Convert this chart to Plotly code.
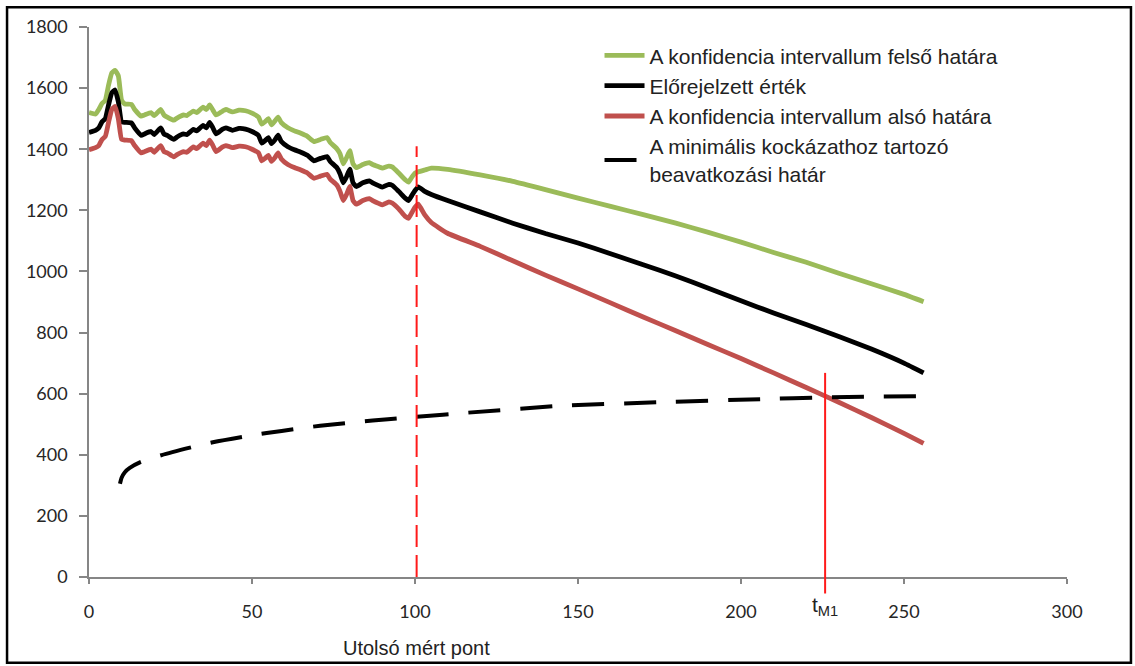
import plotly.graph_objects as go

# ---- measured period (0 .. last measured point) ----
X_MEAS = [0, 2, 3, 4, 5, 6, 7, 8, 9, 10, 11, 13, 14, 16, 17, 19, 20, 22, 23, 24,
          26, 27, 29, 30, 32, 33, 35, 36, 37, 38, 39, 41, 42, 44, 46, 48, 50, 52,
          53, 54, 55, 56, 57, 58, 59, 61, 63, 65, 67, 69, 71, 73, 74, 76, 77, 78,
          79, 80, 81, 82, 84, 86, 87, 89, 90, 92, 93, 95, 97, 98, 99, 100, 101]

UPPER_MEAS = [1520, 1515, 1530, 1550, 1560, 1610, 1650, 1658, 1640, 1560, 1548, 1547,
              1530, 1508, 1512, 1520, 1510, 1530, 1512, 1505, 1495, 1502, 1512, 1510,
              1525, 1520, 1538, 1530, 1545, 1528, 1512, 1525, 1530, 1522, 1528, 1526,
              1518, 1505, 1482, 1490, 1500, 1480, 1492, 1505, 1487, 1470, 1460, 1452,
              1442, 1425, 1432, 1438, 1422, 1402, 1385, 1352, 1372, 1395, 1352, 1340,
              1350, 1356, 1350, 1342, 1338, 1345, 1342, 1322, 1300, 1292, 1308, 1322,
              1326]

PRED_MEAS = [1455, 1462, 1470, 1490, 1500, 1545, 1585, 1594, 1555, 1490, 1488, 1486,
             1470, 1445, 1450, 1458, 1448, 1470, 1450, 1445, 1432, 1440, 1450, 1448,
             1465, 1460, 1478, 1470, 1488, 1470, 1450, 1466, 1470, 1462, 1468, 1466,
             1458, 1445, 1420, 1428, 1438, 1418, 1430, 1446, 1425, 1408, 1398, 1390,
             1380, 1362, 1370, 1376, 1360, 1340, 1320, 1290, 1310, 1335, 1290, 1278,
             1290, 1296, 1290, 1280, 1276, 1285, 1282, 1262, 1240, 1232, 1248, 1265,
             1277]

LOWER_MEAS = [1398, 1405, 1412, 1432, 1442, 1488, 1530, 1540, 1500, 1432, 1430, 1428,
              1412, 1388, 1392, 1400, 1390, 1412, 1392, 1388, 1375, 1382, 1392, 1390,
              1408, 1402, 1420, 1412, 1430, 1412, 1392, 1408, 1412, 1405, 1410, 1408,
              1400, 1388, 1362, 1370, 1380, 1360, 1372, 1388, 1368, 1350, 1340, 1332,
              1322, 1305, 1312, 1318, 1302, 1283, 1262, 1232, 1252, 1278, 1232, 1220,
              1232, 1238, 1232, 1222, 1218, 1228, 1224, 1205, 1180, 1174, 1192, 1210,
              1220]

# ---- forecast period ----
X_FC = [103, 105, 110, 120, 130, 140, 150, 160, 170, 180, 190, 200, 210, 220, 230,
        240, 250, 256]
UPPER_FC = [1332, 1338, 1334, 1316, 1295, 1268, 1240, 1213, 1186, 1158, 1128, 1096,
            1062, 1030, 994, 960, 925, 901]
PRED_FC = [1262, 1252, 1232, 1195, 1158, 1124, 1093, 1058, 1022, 985, 945, 904, 864,
           826, 787, 746, 700, 668]
LOWER_FC = [1185, 1160, 1125, 1082, 1035, 988, 943, 897, 851, 806, 760, 715, 668, 620,
            572, 522, 470, 437]

# ---- intervention limit for minimal risk ----
X_LIMIT = [9.5, 10, 11, 12.5, 15.6, 22.3, 32, 38, 47.3, 54.5, 63.7, 70.9, 80, 87,
           96.4, 103.6, 112.8, 144.5, 175, 206, 225.8, 259.6]
LIMIT = [305, 325, 343, 357, 375, 399, 426, 441, 459, 471, 485, 495, 505, 512, 521,
         527, 535, 560, 572, 582, 588, 592]

# ---- markers ----
LAST_MEASURED = 100.5
LAST_MEASURED_TOP = 1410
T_M1 = 225.8
T_M1_TOP = 668

X_TICKS = [0, 50, 100, 150, 200, 250, 300]
Y_TICKS = [0, 200, 400, 600, 800, 1000, 1200, 1400, 1600, 1800]
X_RANGE = [0, 300]
Y_RANGE = [0, 1800]

GREEN = "#9BBB59"
RED = "#C0504D"
AXIS = "#868686"
TEXT_FONT = "Liberation Sans, Arial, sans-serif"
TICK_FONT = "Lato, Open Sans, sans-serif"

fig = go.Figure()

fig.add_trace(go.Scatter(
    x=X_MEAS + X_FC, y=UPPER_MEAS + UPPER_FC, mode="lines",
    name="A konfidencia intervallum felső határa",
    line=dict(color=GREEN, width=4.8, shape="spline", smoothing=0.4)))
fig.add_trace(go.Scatter(
    x=X_MEAS + X_FC, y=PRED_MEAS + PRED_FC, mode="lines",
    name="Előrejelzett érték",
    line=dict(color="black", width=4.8, shape="spline", smoothing=0.4)))
fig.add_trace(go.Scatter(
    x=X_MEAS + X_FC, y=LOWER_MEAS + LOWER_FC, mode="lines",
    name="A konfidencia intervallum alsó határa",
    line=dict(color=RED, width=4.8, shape="spline", smoothing=0.4)))
fig.add_trace(go.Scatter(
    x=X_LIMIT, y=LIMIT, mode="lines",
    name="A minimális kockázathoz tartozó<br>beavatkozási határ",
    line=dict(color="black", width=4, dash="32px,20px", shape="spline", smoothing=0.6)))

# last measured point (dashed) and crossing time t_M1 (solid)
fig.add_shape(type="line", xref="x", yref="y",
              x0=LAST_MEASURED, x1=LAST_MEASURED, y0=0, y1=LAST_MEASURED_TOP,
              line=dict(color="#FF1A1A", width=2, dash="22px,8px"))
fig.add_shape(type="line", xref="x", yref="paper",
              x0=T_M1, x1=T_M1, y0=-0.03,
              y1=(T_M1_TOP - Y_RANGE[0]) / (Y_RANGE[1] - Y_RANGE[0]),
              line=dict(color="#FF1A1A", width=2))

fig.add_annotation(x=T_M1, y=-0.052, xref="x", yref="paper", text="t<sub>M1</sub>",
                   showarrow=False, yanchor="middle", xanchor="center",
                   font=dict(family=TEXT_FONT, size=21, color="#222"))
fig.add_annotation(x=LAST_MEASURED, y=-0.129, xref="x", yref="paper",
                   text="Utolsó mért pont", showarrow=False,
                   yanchor="middle", xanchor="center",
                   font=dict(family=TEXT_FONT, size=20, color="#222"))

# outer frame
fig.add_shape(type="rect", xref="paper", yref="paper",
              x0=-0.0838, x1=1.0654, y0=-0.156, y1=1.036,
              line=dict(color="black", width=2.5))

fig.update_xaxes(range=X_RANGE, tickvals=X_TICKS, showline=True, linecolor=AXIS,
                 linewidth=1.5, ticks="outside", ticklen=5, tickcolor=AXIS,
                 tickwidth=1.5, showgrid=False, zeroline=False,
                 ticklabelstandoff=13,
                 tickfont=dict(family=TICK_FONT, size=18, color="#262626"))
fig.update_yaxes(range=Y_RANGE, tickvals=Y_TICKS, showline=True, linecolor=AXIS,
                 linewidth=1.5, ticks="outside", ticklen=8, tickcolor=AXIS,
                 tickwidth=1.5, showgrid=False, zeroline=False,
                 ticklabelstandoff=8,
                 tickfont=dict(family=TICK_FONT, size=18, color="#262626"))

fig.update_layout(
    width=1135, height=666,
    margin=dict(l=89, r=68, t=27, b=89),
    paper_bgcolor="white", plot_bgcolor="white",
    showlegend=True,
    legend=dict(x=0.522, y=0.985, xanchor="left", yanchor="top",
                bgcolor="rgba(0,0,0,0)", itemwidth=40,
                font=dict(family=TEXT_FONT, size=21, color="#222")),
)

fig.write_html("out.html")
